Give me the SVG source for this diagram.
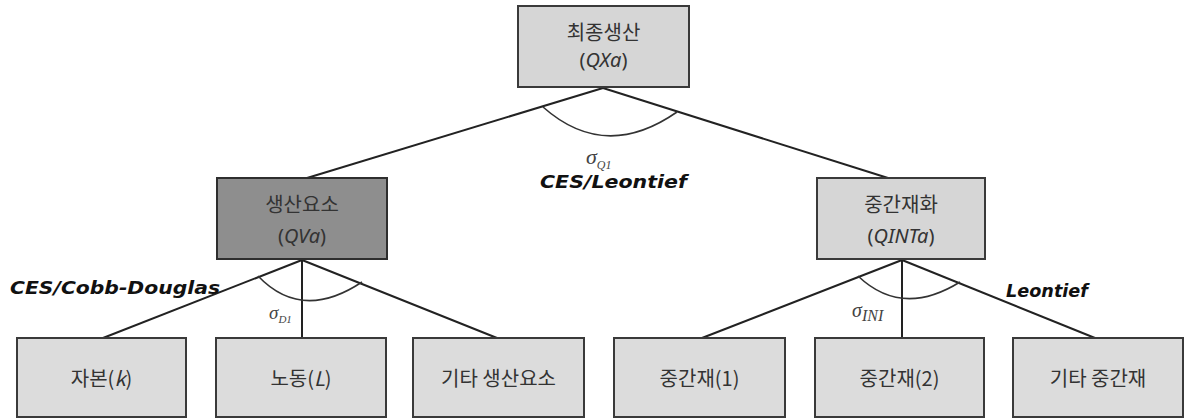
<svg xmlns="http://www.w3.org/2000/svg" width="1185" height="419" viewBox="0 0 1185 419">
<style>
.box{fill:#d6d6d6;stroke:#3a3a3a;stroke-width:2}
.leaf{fill:#dcdcdc;stroke:#3a3a3a;stroke-width:2}
.dark{fill:#8e8e8e;stroke:#2e2e2e;stroke-width:2}
.t{font-family:"Noto Sans CJK KR","Noto Sans",sans-serif;font-size:20px;fill:#333;text-anchor:middle}
.t2{font-family:"Noto Sans","Noto Sans CJK KR",sans-serif;font-size:20px;fill:#333;text-anchor:middle}
.i{font-style:italic}
.ln{stroke:#222;stroke-width:2;fill:none}
.arc{stroke:#333;stroke-width:1.6;fill:none}
.fn{font-family:"DejaVu Sans",sans-serif;font-weight:bold;font-style:italic;font-size:17px;fill:#111}
.sg{font-family:"Liberation Serif",serif;font-style:italic;fill:#444}
</style>
<rect width="1185" height="419" fill="#ffffff"/>
<g id="connectors">
<path class="ln" d="M603 88 L307 178"/>
<path class="ln" d="M603 88 L888 178"/>
<path class="ln" d="M302 260 L103 338"/>
<path class="ln" d="M302 260 L302 338"/>
<path class="ln" d="M302 260 L497 338"/>
<path class="ln" d="M902 260 L702 338"/>
<path class="ln" d="M902 260 L902 338"/>
<path class="ln" d="M902 260 L1095 338"/>
<path class="arc" d="M543 107 Q605 162 677 112"/>
<path class="arc" d="M258 276 Q302 322 362 282"/>
<path class="arc" d="M858 276 Q902 318 960 282"/>
</g>
<g id="labels">
<text class="sg" x="586" y="164" font-size="22">σ<tspan font-size="12" dy="5">Q1</tspan></text>
<text class="fn" x="540" y="188" textLength="147" lengthAdjust="spacingAndGlyphs">CES/Leontief</text>
<text class="fn" x="10" y="294" textLength="210" lengthAdjust="spacingAndGlyphs">CES/Cobb-Douglas</text>
<text class="sg" x="269" y="319" font-size="19">σ<tspan font-size="11" dy="4">D1</tspan></text>
<text class="sg" x="852" y="317" font-size="20">σ<tspan font-size="16" dy="4">INI</tspan></text>
<text class="fn" x="1006" y="297" textLength="82" lengthAdjust="spacingAndGlyphs">Leontief</text>
</g>
<g id="n-top">
<rect class="box" x="518" y="6" width="171" height="81"/>
<text class="t" x="603.5" y="40">최종생산</text>
<text class="t2" x="603.5" y="67">(<tspan class="i">QXa</tspan>)</text>
</g>
<g id="n-va">
<rect class="dark" x="217" y="178" width="170" height="81"/>
<text class="t" x="302" y="212" fill="#2a2a2a">생산요소</text>
<text class="t2" x="302" y="243" fill="#2a2a2a">(<tspan class="i">QVa</tspan>)</text>
</g>
<g id="n-int">
<rect class="box" x="817" y="178" width="168" height="81"/>
<text class="t" x="901" y="212">중간재화</text>
<text class="t2" x="901" y="243">(<tspan class="i">QINTa</tspan>)</text>
</g>
<g id="n-k">
<rect class="leaf" x="17" y="338" width="169" height="79"/>
<text class="t" x="101.5" y="386">자본(<tspan class="i">k</tspan>)</text>
</g>
<g id="n-l">
<rect class="leaf" x="216" y="338" width="170" height="79"/>
<text class="t" x="301" y="386">노동(<tspan class="i">L</tspan>)</text>
</g>
<g id="n-other-f">
<rect class="leaf" x="413" y="338" width="171" height="79"/>
<text class="t" x="498.5" y="386">기타 생산요소</text>
</g>
<g id="n-int1">
<rect class="leaf" x="614" y="338" width="171" height="79"/>
<text class="t" x="699.5" y="386">중간재(1)</text>
</g>
<g id="n-int2">
<rect class="leaf" x="815" y="338" width="169" height="79"/>
<text class="t" x="899.5" y="386">중간재(2)</text>
</g>
<g id="n-other-i">
<rect class="leaf" x="1013" y="338" width="170" height="79"/>
<text class="t" x="1098" y="386">기타 중간재</text>
</g>
</svg>
